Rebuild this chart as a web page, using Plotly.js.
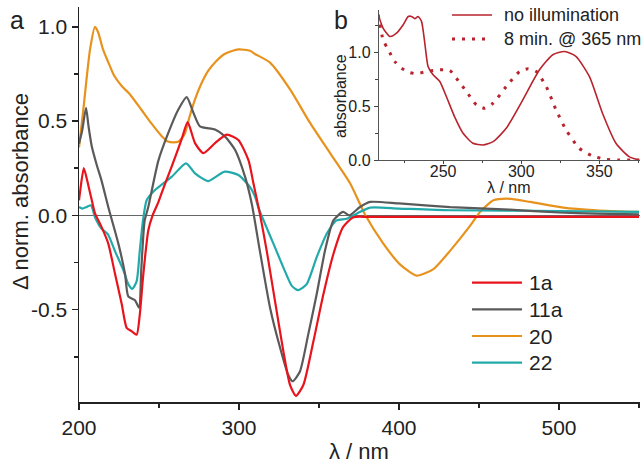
<!DOCTYPE html>
<html>
<head>
<meta charset="utf-8">
<script src="https://cdn.plot.ly/plotly-3.0.1.min.js"></script>
<style>html,body{margin:0;padding:0;background:#fff}#chart{width:644px;height:466px}</style>
</head>
<body>
<div id="chart"></div>
<script>
// ---- main panel (a) data ----
const seriesNames = ["1a", "11a", "20", "22"];
const seriesColors = ["#e8141c", "#5a5a5a", "#e8921e", "#22aaaa"];

const wl_1a = [200,200.6,203,205.8,208,210,214,218.3,222.5,226.7,229.8,233,236,238,240,243.3,246,249.6,253,257.9,264,267.9,272.5,277.7,285,292.3,299.6,306,309,313,317.3,322.5,327.7,331.9,335.6,340.2,346.5,352.7,359,365,371.5,380,400,450,500,550];
const abs_1a = [0.08,0.12,0.25,0.16,0.08,0.01,-0.06,-0.15,-0.31,-0.47,-0.597,-0.615,-0.633,-0.526,-0.33,-0.08,0.0,0.07,0.15,0.258,0.40,0.494,0.383,0.33,0.383,0.428,0.40,0.29,0.17,0.01,-0.187,-0.455,-0.72,-0.90,-0.957,-0.90,-0.668,-0.42,-0.205,-0.063,-0.01,-0.008,-0.008,-0.008,-0.008,-0.008];

const wl_11a = [200,202,204.4,206,208,211,214,218.3,219.4,224.6,228.75,230.8,235,237.5,239,241,243.3,249.6,255.8,262,267.3,271.5,275.6,285,291,297.5,303.75,308,313,319.4,325.6,330.8,333.5,338,343.3,348.5,353.75,359,365,369,375.6,382,400,432,469,500,523,550];
const abs_11a = [0.38,0.45,0.57,0.47,0.365,0.27,0.187,0.044,0.01,-0.15,-0.31,-0.43,-0.45,-0.49,-0.276,-0.03,0.044,0.29,0.437,0.56,0.627,0.544,0.472,0.455,0.42,0.348,0.205,0.06,-0.187,-0.49,-0.70,-0.847,-0.88,-0.83,-0.63,-0.42,-0.187,-0.027,0.018,0.0,0.044,0.071,0.063,0.044,0.03,0.015,0.009,0.005];

const wl_20 = [200,202.7,206.9,210,212,215,219.4,222,226.7,232,239,245,251.7,256,259,262,266,269,272.5,276,280.8,286,291,299.6,306.9,310,319.4,331.9,344.4,356.9,369.4,379,390.2,400.6,411,421.5,432,444,450.6,459,467.3,482,502.7,523.5,550];
const abs_20 = [0.36,0.56,0.88,1.0,0.97,0.88,0.79,0.74,0.686,0.64,0.56,0.49,0.42,0.39,0.387,0.39,0.43,0.52,0.615,0.69,0.767,0.82,0.856,0.88,0.873,0.856,0.81,0.668,0.49,0.33,0.17,0.0,-0.15,-0.26,-0.32,-0.285,-0.187,-0.06,0.018,0.08,0.089,0.071,0.041,0.027,0.018];

const wl_22 = [200,202,205,207.5,210,214,218,222.5,227.7,230.8,233.3,236,238,240,242.3,247.5,258,266.9,272.5,280.8,291,299.6,306.9,310,312,317,321.5,327.7,333,337,342.3,348.5,354.8,361,367.3,373.5,382,400,432,500,550];
const abs_22 = [0.044,0.036,0.045,0.053,-0.01,-0.07,-0.1,-0.19,-0.29,-0.365,-0.39,-0.35,-0.187,-0.027,0.08,0.134,0.205,0.276,0.223,0.182,0.232,0.214,0.15,0.1,0.044,-0.06,-0.15,-0.276,-0.374,-0.397,-0.365,-0.223,-0.098,-0.027,-0.018,0.009,0.041,0.036,0.027,0.023,0.018];

// ---- inset panel (b) data ----
const insetNames = ["no illumination", "8 min. @ 365 nm"];
const insetColor = "#b8232d";
const wl_dark = [208.5,211.7,216,220.2,224.5,227.7,229.8,231.9,234,236.2,238.3,240.4,243.6,247.9,252.1,257.4,262.8,269.1,275.5,282,290.4,301,311.7,320.2,327.7,335,343.6,352,360.6,369,375.5];
const abs_dark = [1.347,1.22,1.145,1.176,1.254,1.33,1.33,1.31,1.33,1.285,1.084,0.867,0.79,0.728,0.588,0.40,0.248,0.155,0.139,0.17,0.294,0.557,0.836,0.975,1.006,0.96,0.774,0.433,0.155,0.031,0.0];
const wl_irr = [208.5,211.7,215,219,223.4,228.7,233,239.4,247.9,254.3,258.5,264.9,271.3,276.6,282,290.4,299,304.3,309.6,316,322.3,328.7,337.2,345.7,354.3,362,371.3,375.5];
const abs_irr = [1.347,1.11,1.02,0.913,0.851,0.81,0.80,0.82,0.836,0.83,0.758,0.635,0.511,0.48,0.526,0.681,0.82,0.845,0.82,0.681,0.464,0.279,0.108,0.037,0.006,0.0,0.0,0.0];

// ---- tick labels ----
const yTickVals = [-0.5, 0, 0.5, 1.0];
const yTickText = ["-0.5", "0.0", "0.5", "1.0"];
const yMinorVals = [-0.75, -0.25, 0.25, 0.75];
const y2TickVals = [0, 0.5, 1.0];
const y2TickText = ["0.0", "0.5", "1.0"];
const y2MinorVals = [0.25, 0.75, 1.25];

const FONT = "Liberation Sans, Arial, sans-serif";
const TXT = "#222";

// pixel helpers for decorations (plot area 79..640 x 7..402)
const PL = 79, PR = 640, PT = 7, PB = 402;
const px = x => (x - PL) / (PR - PL);
const py = y => (PB - y) / (PB - PT);

const mainX = [wl_1a, wl_11a, wl_20, wl_22];
const mainY = [abs_1a, abs_11a, abs_20, abs_22];

const traces = [];
// draw order: 20 first, then 22, 11a, 1a on top
[2, 3, 1, 0].forEach(i => {
  traces.push({
    x: mainX[i], y: mainY[i], type: "scatter", mode: "lines",
    name: seriesNames[i], showlegend: false,
    line: {color: seriesColors[i], width: 2.2, shape: "spline", smoothing: 0.6},
    xaxis: "x", yaxis: "y"
  });
});
traces.push({
  x: wl_dark, y: abs_dark, type: "scatter", mode: "lines", name: insetNames[0], showlegend: false,
  line: {color: insetColor, width: 1.6, shape: "spline", smoothing: 0.6}, xaxis: "x2", yaxis: "y2"
});
traces.push({
  x: wl_irr, y: abs_irr, type: "scatter", mode: "lines", name: insetNames[1], showlegend: false,
  line: {color: insetColor, width: 3, dash: "3px,7px", shape: "spline", smoothing: 0.6}, xaxis: "x2", yaxis: "y2"
});

const shapes = [];
const annotations = [];

// main legend
const legRows = [282.7, 309.3, 336, 362.7];
seriesNames.forEach((n, i) => {
  shapes.push({type: "line", xref: "paper", yref: "paper", x0: px(472), x1: px(522), y0: py(legRows[i]), y1: py(legRows[i]),
    line: {color: seriesColors[i], width: 2.2}});
  annotations.push({text: n, xref: "paper", yref: "paper", x: px(527), y: py(legRows[i]), xanchor: "left", yanchor: "middle",
    showarrow: false, font: {family: FONT, size: 21, color: TXT}});
});
// inset legend
const insRows = [15, 39];
shapes.push({type: "line", xref: "paper", yref: "paper", x0: px(452), x1: px(492), y0: py(insRows[0]), y1: py(insRows[0]),
  line: {color: insetColor, width: 1.6}});
shapes.push({type: "line", xref: "paper", yref: "paper", x0: px(452), x1: px(492), y0: py(insRows[1]), y1: py(insRows[1]),
  line: {color: insetColor, width: 3, dash: "3px,7px"}});
insetNames.forEach((n, i) => {
  annotations.push({text: n, xref: "paper", yref: "paper", x: px(502), y: py(insRows[i]), xanchor: "left", yanchor: "middle",
    showarrow: false, font: {family: FONT, size: 18, color: TXT}});
});

// titles and panel labels
annotations.push({text: "a", xref: "paper", yref: "paper", x: px(17), y: py(20), xanchor: "center", yanchor: "middle",
  showarrow: false, font: {family: FONT, size: 25, color: TXT}});
annotations.push({text: "b", xref: "paper", yref: "paper", x: px(341), y: py(20), xanchor: "center", yanchor: "middle",
  showarrow: false, font: {family: FONT, size: 25, color: TXT}});
annotations.push({text: "Δ norm. absorbance", xref: "paper", yref: "paper", x: px(20), y: py(192), xanchor: "center", yanchor: "middle",
  textangle: -90, showarrow: false, font: {family: FONT, size: 22, color: TXT}});
annotations.push({text: "λ / nm", xref: "paper", yref: "paper", x: px(359), y: py(451), xanchor: "center", yanchor: "middle",
  showarrow: false, font: {family: FONT, size: 22, color: TXT}});
annotations.push({text: "absorbance", xref: "paper", yref: "paper", x: px(341), y: py(96), xanchor: "center", yanchor: "middle",
  textangle: -90, showarrow: false, font: {family: FONT, size: 16, color: TXT}});
annotations.push({text: "λ / nm", xref: "paper", yref: "paper", x: px(509), y: py(187), xanchor: "center", yanchor: "middle",
  showarrow: false, font: {family: FONT, size: 16, color: TXT}});

const layout = {
  width: 644, height: 466,
  margin: {l: PL, r: 644 - PR, t: PT, b: 466 - PB, pad: 0},
  paper_bgcolor: "#ffffff", plot_bgcolor: "rgba(0,0,0,0)",
  font: {family: FONT, size: 21, color: TXT},
  showlegend: false,
  xaxis: {
    range: [200, 550.6], dtick: 100, tick0: 0, ticks: "outside", ticklen: 6, tickwidth: 1.5, tickcolor: "#222",
    minor: {dtick: 50, tick0: 0, ticks: "outside", ticklen: 4, tickwidth: 1.5, tickcolor: "#222"},
    showline: true, linecolor: "#222", linewidth: 1.5, showgrid: false, zeroline: false,
    tickfont: {family: FONT, size: 21, color: TXT}, anchor: "y"
  },
  yaxis: {
    range: [-0.99, 1.105], tickmode: "array", tickvals: yTickVals, ticktext: yTickText,
    ticks: "outside", ticklen: 6, tickwidth: 1.5, tickcolor: "#222",
    minor: {tickmode: "array", tickvals: yMinorVals, ticks: "outside", ticklen: 4, tickwidth: 1.5, tickcolor: "#222"},
    showline: true, linecolor: "#222", linewidth: 1.5, showgrid: false,
    zeroline: true, zerolinecolor: "#666", zerolinewidth: 1.2,
    tickfont: {family: FONT, size: 21, color: TXT}, anchor: "x"
  },
  xaxis2: {
    domain: [px(379), 1], anchor: "y2", range: [209, 376], dtick: 50, tick0: 0,
    ticks: "outside", ticklen: 3, tickwidth: 1, tickcolor: "#444", ticklabelstandoff: -6,
    minor: {dtick: 25, tick0: 0, ticks: "outside", ticklen: 2, tickwidth: 1, tickcolor: "#444"},
    showline: true, linecolor: "#555", linewidth: 1.2, showgrid: false, zeroline: false,
    tickfont: {family: FONT, size: 16, color: TXT}
  },
  yaxis2: {
    domain: [py(160), py(10)], anchor: "x2", range: [0, 1.39], tickmode: "array", tickvals: y2TickVals, ticktext: y2TickText,
    ticks: "outside", ticklen: 4, tickwidth: 1, tickcolor: "#444",
    minor: {tickmode: "array", tickvals: y2MinorVals, ticks: "outside", ticklen: 2.5, tickwidth: 1, tickcolor: "#444"},
    showline: true, linecolor: "#555", linewidth: 1.2, showgrid: false, zeroline: false,
    tickfont: {family: FONT, size: 16, color: TXT}
  },
  shapes: shapes,
  annotations: annotations
};

Plotly.newPlot("chart", traces, layout, {staticPlot: true, displayModeBar: false});
</script>
</body>
</html>
